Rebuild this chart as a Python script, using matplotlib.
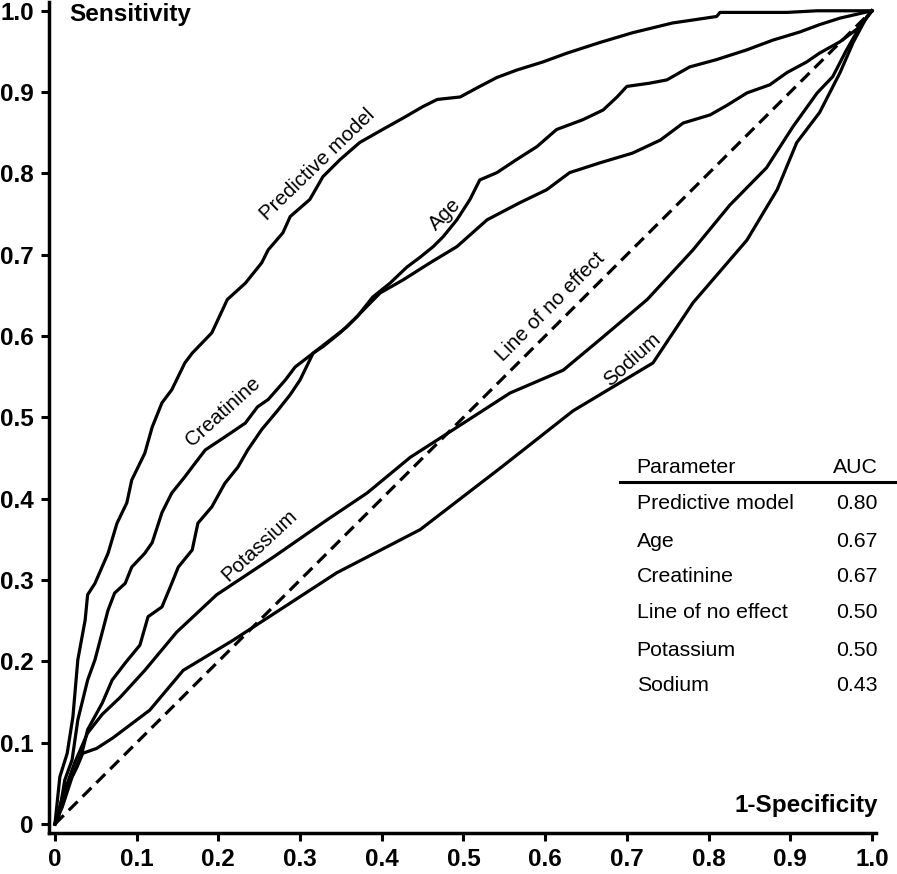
import numpy as np
import matplotlib
matplotlib.use("Agg")
import matplotlib.pyplot as plt

plt.rcParams['font.family'] = ['Liberation Sans', 'DejaVu Sans']

# ROC curves (1-specificity, sensitivity)
model_x = [0, 0.006, 0.015, 0.022, 0.028, 0.037, 0.040, 0.049, 0.065, 0.076, 0.088, 0.094,
           0.110, 0.119, 0.131, 0.143, 0.159, 0.168, 0.192, 0.211, 0.233, 0.253, 0.261, 0.279,
           0.288, 0.312, 0.328, 0.349, 0.373, 0.401, 0.426, 0.450, 0.468, 0.496, 0.520, 0.541,
           0.565, 0.597, 0.627, 0.667, 0.707, 0.756, 0.810, 0.814, 0.896, 0.933, 1.0]
model_y = [0, 0.058, 0.087, 0.132, 0.202, 0.251, 0.282, 0.296, 0.333, 0.370, 0.395, 0.423,
           0.456, 0.488, 0.518, 0.534, 0.567, 0.579, 0.604, 0.645, 0.665, 0.690, 0.706, 0.727,
           0.747, 0.768, 0.796, 0.817, 0.838, 0.854, 0.868, 0.882, 0.891, 0.894, 0.907, 0.918,
           0.927, 0.937, 0.948, 0.961, 0.973, 0.985, 0.993, 0.998, 0.998, 1.0, 1.0]

age_x = [0, 0.009, 0.021, 0.033, 0.040, 0.058, 0.070, 0.086, 0.104, 0.114, 0.131, 0.143,
         0.151, 0.168, 0.175, 0.192, 0.208, 0.224, 0.236, 0.253, 0.273, 0.288, 0.300, 0.316,
         0.328, 0.349, 0.370, 0.389, 0.410, 0.431, 0.447, 0.463, 0.475, 0.492, 0.508, 0.520,
         0.541, 0.565, 0.590, 0.614, 0.646, 0.671, 0.688, 0.700, 0.728, 0.749, 0.777, 0.810,
         0.847, 0.879, 0.912, 0.936, 0.961, 1.0]
age_y = [0, 0.021, 0.058, 0.087, 0.116, 0.149, 0.177, 0.198, 0.220, 0.255, 0.267, 0.296,
         0.316, 0.337, 0.370, 0.390, 0.419, 0.439, 0.460, 0.485, 0.509, 0.528, 0.546, 0.579,
         0.587, 0.604, 0.624, 0.648, 0.665, 0.685, 0.697, 0.710, 0.722, 0.743, 0.768, 0.792,
         0.801, 0.817, 0.833, 0.854, 0.866, 0.878, 0.894, 0.907, 0.911, 0.915, 0.931, 0.940,
         0.952, 0.964, 0.974, 0.983, 0.991, 1.0]

creat_x = [0, 0.004, 0.012, 0.021, 0.028, 0.040, 0.049, 0.065, 0.073, 0.086, 0.094, 0.110,
           0.119, 0.131, 0.143, 0.159, 0.168, 0.184, 0.208, 0.233, 0.248, 0.261, 0.282, 0.294,
           0.316, 0.357, 0.398, 0.426, 0.459, 0.492, 0.529, 0.569, 0.602, 0.630, 0.667, 0.707,
           0.741, 0.769, 0.802, 0.823, 0.847, 0.875, 0.896, 0.920, 0.936, 0.961, 0.985, 1.0]
creat_y = [0, 0.005, 0.054, 0.079, 0.128, 0.177, 0.202, 0.263, 0.284, 0.296, 0.316, 0.333,
           0.346, 0.383, 0.407, 0.427, 0.439, 0.460, 0.476, 0.493, 0.513, 0.522, 0.546, 0.562,
           0.579, 0.611, 0.653, 0.669, 0.690, 0.710, 0.743, 0.764, 0.780, 0.801, 0.813, 0.825,
           0.841, 0.862, 0.872, 0.884, 0.899, 0.909, 0.924, 0.937, 0.948, 0.962, 0.980, 1.0]

potas_x = [0, 0.009, 0.024, 0.040, 0.058, 0.080, 0.110, 0.149, 0.198, 0.267, 0.333, 0.382,
           0.435, 0.483, 0.557, 0.622, 0.671, 0.725, 0.781, 0.826, 0.871, 0.903, 0.933, 0.952,
           0.969, 0.985, 1.0]
potas_y = [0, 0.033, 0.075, 0.112, 0.135, 0.156, 0.189, 0.236, 0.282, 0.328, 0.374, 0.407,
           0.451, 0.482, 0.530, 0.558, 0.599, 0.645, 0.706, 0.761, 0.807, 0.857, 0.899, 0.919,
           0.952, 0.980, 1.0]

sodium_x = [0, 0.004, 0.015, 0.027, 0.034, 0.051, 0.071, 0.116, 0.157, 0.218, 0.345, 0.447,
            0.548, 0.634, 0.732, 0.781, 0.847, 0.884, 0.908, 0.936, 0.961, 0.977, 0.994, 1.0]
sodium_y = [0, 0.014, 0.046, 0.070, 0.087, 0.093, 0.106, 0.140, 0.189, 0.226, 0.309, 0.362,
            0.440, 0.508, 0.567, 0.641, 0.718, 0.780, 0.838, 0.875, 0.924, 0.961, 0.993, 1.0]

# curve labels: text, x, y, angle
labels = [("Predictive model", 0.321, 0.811, 44),
          ("Age", 0.477, 0.749, 45),
          ("Creatinine", 0.206, 0.507, 42),
          ("Line of no effect", 0.606, 0.636, 45),
          ("Sodium", 0.706, 0.571, 42),
          ("Potassium", 0.251, 0.343, 43)]

params = ["Predictive model", "Age", "Creatinine", "Line of no effect", "Potassium", "Sodium"]
auc = ["0.80", "0.67", "0.67", "0.50", "0.50", "0.43"]

ticks = [0, 0.1, 0.2, 0.3, 0.4, 0.5, 0.6, 0.7, 0.8, 0.9, 1.0]
tick_labels = ["0", "0.1", "0.2", "0.3", "0.4", "0.5", "0.6", "0.7", "0.8", "0.9", "1.0"]

fig = plt.figure(figsize=(8.97, 8.74), dpi=100)
ax = fig.add_axes([0.0546, 0.0469, 0.922, 0.951])

lw = 2.3
ax.plot(model_x, model_y, color='black', lw=lw)
ax.plot(age_x, age_y, color='black', lw=lw)
ax.plot(creat_x, creat_y, color='black', lw=lw)
ax.plot(potas_x, potas_y, color='black', lw=lw)
ax.plot(sodium_x, sodium_y, color='black', lw=lw)
ax.plot([0, 1], [0, 1], color='black', lw=lw, dashes=(3.9, 2.2))

for txt, x, y, ang in labels:
    ax.text(x, y, txt, rotation=ang, rotation_mode='anchor', ha='center', va='center',
            fontsize=14.8)

ax.set_xlim(-0.0073, 1.005)
ax.set_ylim(-0.011, 1.011)
ax.set_xticks(ticks)
ax.set_xticklabels(tick_labels)
ax.set_yticks(ticks)
ax.set_yticklabels(tick_labels)
for lab in ax.get_xticklabels() + ax.get_yticklabels():
    lab.set_fontweight('bold')
    lab.set_fontsize(17.5)
ax.tick_params(direction='out', length=6, width=2.2, pad=5)
for s in ['top', 'right']:
    ax.spines[s].set_visible(False)
for s in ['left', 'bottom']:
    ax.spines[s].set_linewidth(2.5)

ax.text(0.018, 0.996, "Sensitivity", fontsize=17.5, fontweight='bold', ha='left', va='center')
ax.text(1.007, 0.023, "1-Specificity", fontsize=17.5, fontweight='bold', ha='right', va='center')

# AUC table
tx0, tx1 = 0.712, 1.007
ax.text(tx0, 0.439, "Parameter", fontsize=15.3, ha='left', va='center', clip_on=False)
ax.text(tx1, 0.439, "AUC", fontsize=15.3, ha='right', va='center', clip_on=False)
ax.plot([0.692, 1.031], [0.421, 0.421], color='black', lw=2.2, clip_on=False)
row_y = [0.394, 0.348, 0.304, 0.260, 0.214, 0.170]
for name, val, y in zip(params, auc, row_y):
    ax.text(tx0, y, name, fontsize=15.3, ha='left', va='center', clip_on=False)
    ax.text(tx1, y, val, fontsize=15.3, ha='right', va='center', clip_on=False)

fig.savefig("out.png", dpi=100)
